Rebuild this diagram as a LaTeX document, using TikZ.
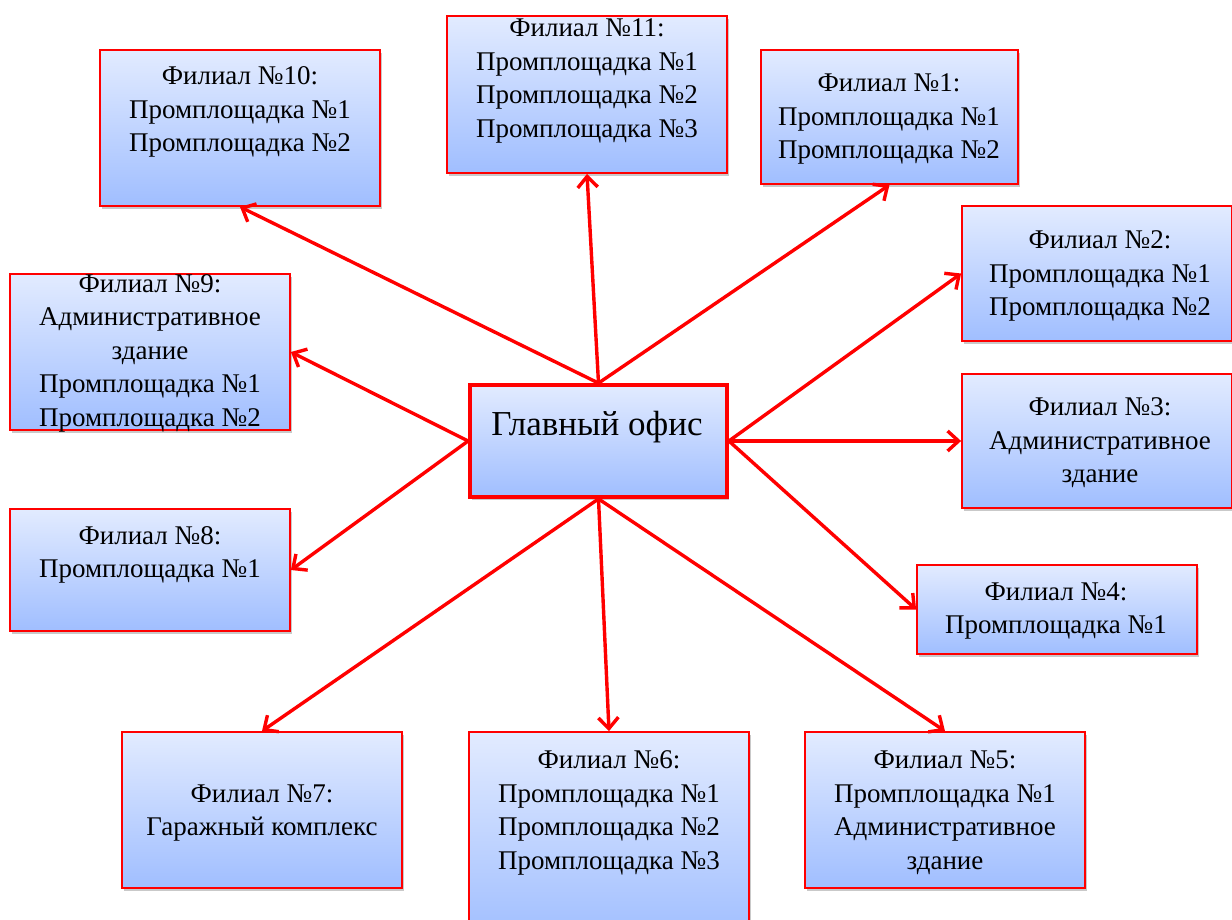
\documentclass[tikz,border=0pt]{standalone}
\usepackage{fontspec}
\setmainfont{Liberation Serif}
\newfontfamily\serifx{Liberation Serif}
\usetikzlibrary{arrows.meta,shadows}
\definecolor{boxtop}{RGB}{226,235,255}
\definecolor{boxbot}{RGB}{160,190,255}
\definecolor{lred}{RGB}{255,0,0}
\tikzset{
  branch/.style={draw=lred, line width=1.8pt, top color=boxtop, bottom color=boxbot,
    inner sep=0pt, drop shadow={shadow xshift=2pt, shadow yshift=-3pt, opacity=0.35, fill=black!60}},
  mainbox/.style={branch, line width=3.8pt},
  txt/.style={align=center, font=\serifx\fontsize{27}{33.5}\selectfont, inner sep=0pt},
  conn/.style={draw=lred, line width=3.4pt, -{Straight Barb[length=11pt,width=20pt,line width=3.4pt]}},
}
\newcommand{\boxat}[5]{% name, x1, y1, x2, y2
  \node[branch, minimum width={#4-#2}, minimum height={#5-#3}] (#1) at ({(#2+#4)/2},{(#3+#5)/2}) {};}
\begin{document}
\begin{tikzpicture}[x=1pt,y=-1pt]
\clip (0,0) rectangle (1232,920);
\useasboundingbox (0,0) rectangle (1232,920);
\fill[white] (0,0) rectangle (1232,920);
% branch boxes
\boxat{b10}{100}{50}{380}{206}
\boxat{b11}{447}{16}{727}{173}
\boxat{b1}{761}{50}{1018}{184}
\boxat{b2}{962}{206}{1232}{341}
\boxat{b9}{10}{274}{290}{430}
\boxat{b3}{962}{374}{1232}{508}
\boxat{b8}{10}{509}{290}{631}
\boxat{b4}{917}{565}{1197}{654}
\boxat{b7}{122}{732}{402}{888}
\boxat{b6}{469}{732}{749}{940}
\boxat{b5}{805}{732}{1085}{888}
\node[mainbox, minimum width=257, minimum height=112] (main) at (598.5,441) {};
% texts
\node[txt] (t10) at (240,112) {Филиал №10:\\Промплощадка №1\\Промплощадка №2};
\node[txt] (t11) at (587,81) {Филиал №11:\\Промплощадка №1\\Промплощадка №2\\Промплощадка №3};
\node[txt] (t1) at (889,119) {Филиал №1:\\Промплощадка №1\\Промплощадка №2};
\node[txt] (t2) at (1100,276) {Филиал №2:\\Промплощадка №1\\Промплощадка №2};
\node[txt] (t9) at (150,353) {Филиал №9:\\Административное\\здание\\Промплощадка №1\\Промплощадка №2};
\node[txt] (t3) at (1100,443) {Филиал №3:\\Административное\\здание};
\node[txt] (t8) at (150,555) {Филиал №8:\\Промплощадка №1};
\node[txt] (t4) at (1056,611) {Филиал №4:\\Промплощадка №1};
\node[txt] (t7) at (262,813) {Филиал №7:\\Гаражный комплекс};
\node[txt] (t6) at (609,813) {Филиал №6:\\Промплощадка №1\\Промплощадка №2\\Промплощадка №3};
\node[txt] (t5) at (945,813) {Филиал №5:\\Промплощадка №1\\Административное\\здание};
\node[txt, font=\serifx\fontsize{35}{40}\selectfont] (tmain) at (597,427) {Главный офис};
% connectors
\draw[conn] (main.north) -- (b10.south);
\draw[conn] (main.north) -- (b11.south);
\draw[conn] (main.north) -- (b1.south);
\draw[conn] (main.west) -- (b9.east);
\draw[conn] (main.west) -- (b8.east);
\draw[conn] (main.east) -- (b2.west);
\draw[conn] (main.east) -- (b3.west);
\draw[conn] (main.east) -- (b4.west);
\draw[conn] (main.south) -- (b7.north);
\draw[conn] (main.south) -- (b6.north);
\draw[conn] (main.south) -- (b5.north);
\end{tikzpicture}
\end{document}
